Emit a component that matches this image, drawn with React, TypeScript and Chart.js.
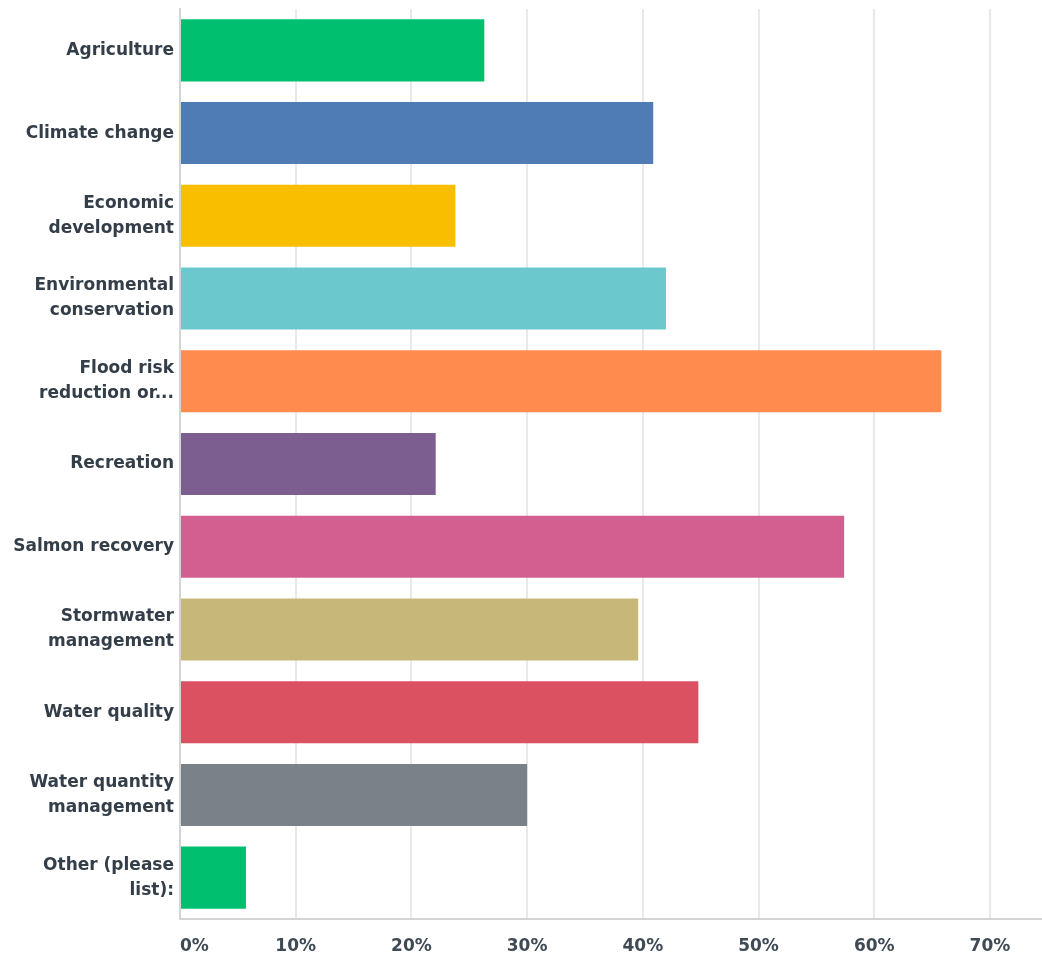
import React, { useEffect, useRef } from "react";
import { Chart, registerables } from "chart.js";

Chart.register(...registerables);

const categories: (string | string[])[] = [
  "Agriculture",
  "Climate change",
  ["Economic", "development"],
  ["Environmental", "conservation"],
  ["Flood risk", "reduction or..."],
  "Recreation",
  "Salmon recovery",
  ["Stormwater", "management"],
  "Water quality",
  ["Water quantity", "management"],
  ["Other (please", "list):"],
];

const values = [26.3, 40.9, 23.8, 42.0, 65.8, 22.1, 57.4, 39.6, 44.8, 30.0, 5.7];

const barColors = [
  "#00bf6f",
  "#507cb6",
  "#f9be00",
  "#6bc8cd",
  "#ff8b4f",
  "#7d5e90",
  "#d25f90",
  "#c7b879",
  "#dc5162",
  "#7a8188",
  "#00bf6f",
];

const tickValues = [0, 10, 20, 30, 40, 50, 60, 70];
const axisMax = 74.5;

const FONT = "'DejaVu Sans', sans-serif";

export default function App() {
  const ref = useRef<HTMLCanvasElement | null>(null);

  useEffect(() => {
    if (!ref.current) return;
    const chart = new Chart(ref.current, {
      type: "bar",
      data: {
        labels: categories,
        datasets: [
          {
            data: values,
            backgroundColor: barColors,
            borderWidth: 0,
            barPercentage: 0.75,
            categoryPercentage: 1,
          },
        ],
      },
      options: {
        indexAxis: "y",
        animation: false,
        responsive: false,
        maintainAspectRatio: false,
        layout: { padding: { top: 9, right: 0, left: 0, bottom: 0 } },
        plugins: { legend: { display: false }, tooltip: { enabled: false } },
        scales: {
          x: {
            min: 0,
            max: axisMax,
            afterBuildTicks: (axis: any) => {
              axis.ticks = [...tickValues, axisMax].map((v) => ({ value: v }));
            },
            ticks: {
              align: "inner",
              padding: 17,
              autoSkip: false,
              maxRotation: 0,
              color: "#3f4a54",
              font: { family: FONT, size: 17, weight: "bold" },
              callback: (v: any) => (tickValues.includes(Number(v)) ? `${v}%` : ""),
            },
            grid: {
              color: (ctx: any) =>
                ctx.tick && tickValues.includes(ctx.tick.value) && ctx.tick.value !== 0
                  ? "#e9e9e9"
                  : "rgba(0,0,0,0)",
              lineWidth: 2,
              drawTicks: false,
            },
            border: { color: "#d4d4d4", width: 2 },
            afterFit: (axis: any) => {
              axis.height = 44;
              axis.paddingLeft = 0;
              axis.paddingRight = 0;
            },
          },
          y: {
            ticks: {
              padding: 6,
              autoSkip: false,
              color: "#333e48",
              font: { family: FONT, size: 17, weight: "bold", lineHeight: 1.47 },
            },
            grid: { display: false, drawTicks: false },
            border: { color: "#d4d4d4", width: 2 },
            afterFit: (axis: any) => {
              axis.width = 180;
              axis.paddingTop = 0;
              axis.paddingBottom = 0;
            },
          },
        },
      },
    });
    return () => chart.destroy();
  }, []);

  return (
    <div style={{ position: "absolute", left: 0, top: 0, width: 1042, height: 963, background: "#fff" }}>
      <canvas ref={ref} width={1042} height={963} style={{ display: "block" }} />
    </div>
  );
}
